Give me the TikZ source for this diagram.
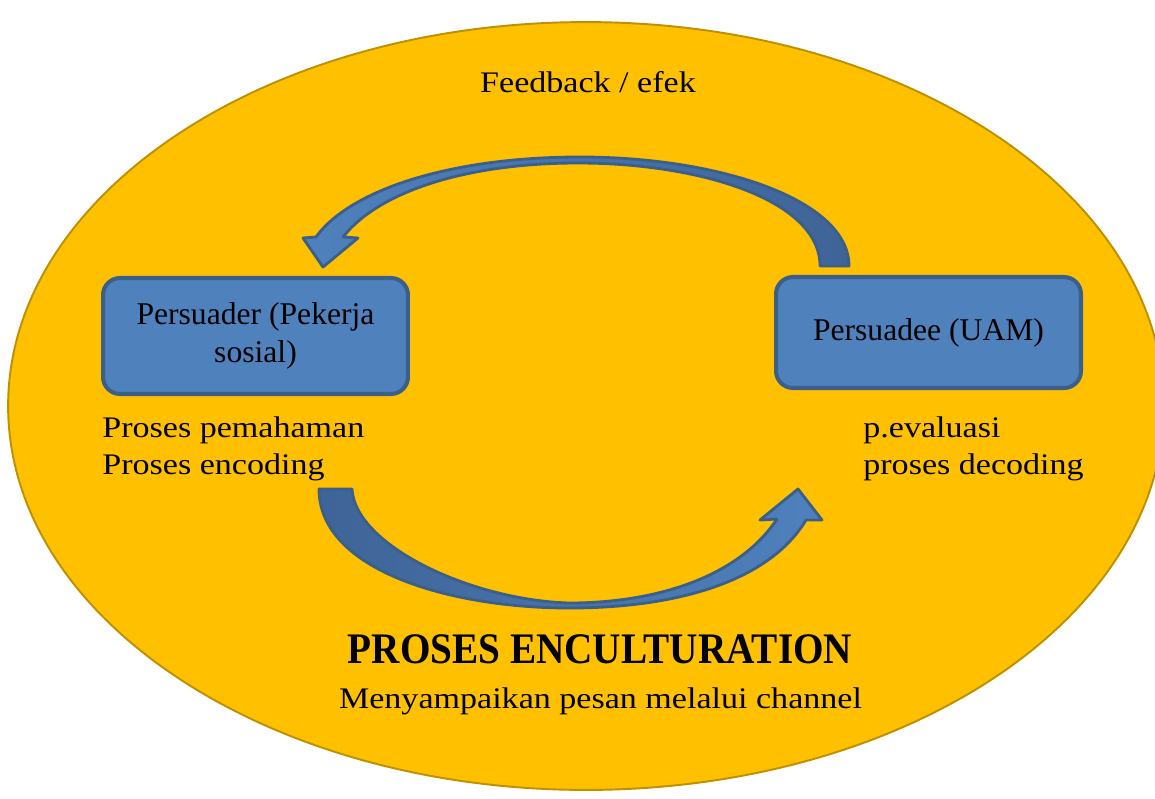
\documentclass[tikz,border=0pt]{standalone}
\usepackage{fontspec}
\setmainfont{Liberation Serif}
\newfontfamily\sidefont[FakeStretch=1.14]{Liberation Serif}
\newfontfamily\titlefont[FakeStretch=0.9]{Liberation Serif}
\definecolor{ovalfill}{HTML}{FFC000}
\definecolor{ovalline}{HTML}{BF9000}
\definecolor{boxfill}{HTML}{4F81BD}
\definecolor{boxline}{HTML}{3A5F8B}
\definecolor{arrowlight}{HTML}{4F81BD}
\definecolor{arrowdark}{HTML}{3F6497}

\begin{document}
\begin{tikzpicture}[x=0.02cm, y=-0.02cm]
    \tikzstyle{box}=[draw=boxline, fill=boxfill, line width=2.3pt, rounded corners=0.34cm, align=center, font=\fontsize{18}{21.5}\selectfont]
    \tikzstyle{side}=[anchor=base west, inner sep=0pt, font=\sidefont\fontsize{17}{21}\selectfont]
    \tikzstyle{bend arrow}=[draw=boxline, line width=1.6pt, line join=round]
    \useasboundingbox (0,0) rectangle (1155,798);
    \draw[ovalline, fill=ovalfill, line width=1.1pt] (586,406) ellipse [x radius=11.56cm, y radius=7.68cm];

    \node[box, minimum width=6.1cm, minimum height=2.32cm] (persuader) at (255.5,336) {Persuader (Pekerja\\sosial)};
    \node[box, minimum width=6.1cm, minimum height=2.22cm] (persuadee) at (928.5,332.5) {Persuadee (UAM)};

    \node[side] (pemahaman) at (102,437) {Proses pemahaman};
    \node[side] (encoding) at (102,474) {Proses encoding};
    \node[side] (evaluasi) at (863,437) {p.evaluasi};
    \node[side] (decoding) at (863,474) {proses decoding};
    \node[side, anchor=base] (feedback) at (588,92) {Feedback / efek};
    \node[anchor=base, inner sep=0pt, font=\titlefont\bfseries\fontsize{24.8}{28}\selectfont] (enculturation) at (600,663) {PROSES ENCULTURATION};
    \node[side, anchor=base] (channel) at (600.5,708) {Menyampaikan pesan melalui channel};

    % feedback arrow: persuadee back to persuader
    \coordinate (fbtip) at (323,267);
    \path[bend arrow, left color=arrowlight, right color=arrowdark]
      (849,266) .. controls (849,200) and (720,157) .. (580,157)
      .. controls (450,157) and (350,190) .. (316,237)
      -- (303,238) -- (fbtip) -- (358,238) -- (343,237)
      .. controls (380,190) and (470,163) .. (578,163)
      .. controls (700,163) and (820,200) .. (820,266) -- cycle;

    % message arrow: persuader to persuadee
    \coordinate (msgtip) at (798,489);
    \path[bend arrow, left color=arrowdark, right color=arrowlight]
      (319,489) .. controls (319,570) and (450,608) .. (569,608)
      .. controls (680,608) and (770,580) .. (806,520)
      -- (822,520) -- (msgtip) -- (760,520) -- (777,519)
      .. controls (740,575) and (660,603) .. (569,603)
      .. controls (470,600) and (355,545) .. (352,489) -- cycle;
\end{tikzpicture}
\end{document}
